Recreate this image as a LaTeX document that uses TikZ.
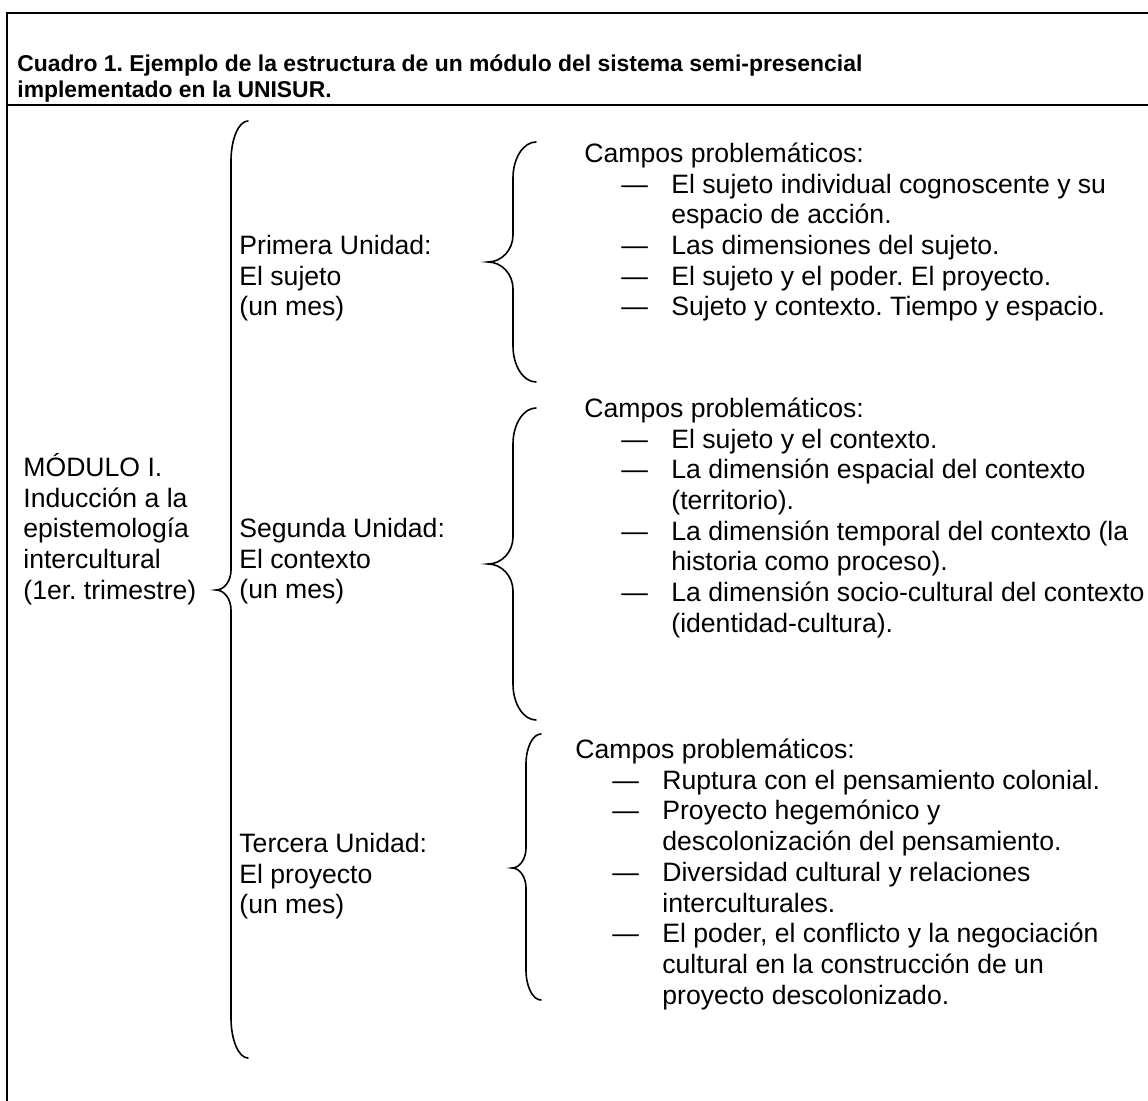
\documentclass[tikz,border=0pt]{standalone}
\usepackage{fontspec}
\setmainfont{Liberation Sans}
\usepackage{tikz}
\usetikzlibrary{positioning}
\frenchspacing
\tikzstyle{frameline} = [line width=1pt, line cap=rect]
\tikzstyle{bracket}   = [line width=0.8pt, line cap=round]
\tikzstyle{title}     = [inner sep=0pt, anchor=base west, align=left,
                         font=\fontsize{11.45}{13}\selectfont\bfseries]
\tikzstyle{body}      = [inner sep=0pt, anchor=base west, align=left,
                         font=\fontsize{13.3}{15.35}\selectfont]
% item dash and continuation indent
\newcommand{\itm}{\hspace*{18.5pt}\makebox[25pt][l]{—}}
\newcommand{\cnt}{\hspace*{43.5pt}}
% left curly brace: end x, stem x, tip x, top y, tip y, bottom y, end curve, tip curve
\newcommand{\curly}[8]{%
  \draw[bracket] (#1,#4) .. controls ({#2+0.45*(#1-#2)},#4) and (#2,{#4+0.45*#7}) .. (#2,{#4+#7})
    -- (#2,{#5-#8}) .. controls (#2,{#5-0.45*#8}) and ({#3+0.55*(#2-#3)},#5) .. (#3,#5)
    .. controls ({#3+0.55*(#2-#3)},#5) and (#2,{#5+0.45*#8}) .. (#2,{#5+#8})
    -- (#2,{#6-#7}) .. controls (#2,{#6-0.45*#7}) and ({#2+0.45*(#1-#2)},#6) .. (#1,#6);}

\begin{document}
\begin{tikzpicture}[x=0.5pt, y=-0.5pt]
    \useasboundingbox (0,0) rectangle (1148,1101);

    % Frame
    \draw[frameline] (1148,13) -- (7,13) -- (7,1101);
    \draw[frameline] (7,105) -- (1148,105);

    % Title (nodes sit on the baseline of their last line)
    \node (title) [title] at (17,97.5) {Cuadro 1. Ejemplo de la estructura de un módulo del sistema semi-presencial\\
        implementado en la UNISUR.};

    % Module (left column)
    \node (modulo) [body] at (23,599.3) {MÓDULO I.\\ Inducción a la\\ epistemología\\ intercultural\\ (1er. trimestre)};
    \curly{248}{231}{216}{121}{590}{1058}{40}{20}

    % Units (middle column)
    \node (unidad1) [body] at (239,315.9) {Primera Unidad:\\ El sujeto\\ (un mes)};
    \node (unidad2) [body] at (239,598.9) {Segunda Unidad:\\ El contexto\\ (un mes)};
    \node (unidad3) [body] at (239,913.9) {Tercera Unidad:\\ El proyecto\\ (un mes)};
    \curly{536}{513}{488}{142}{262}{382}{36}{27}
    \curly{536}{513}{488}{408}{564}{720}{36}{27}
    \curly{541}{526}{512}{734}{868}{1000}{30}{20}

    % Fields (right column)
    \node (campos1) [body] at (584,316) {Campos problemáticos:\\
        \itm El sujeto individual cognoscente y su\\
        \cnt espacio de acción.\\
        \itm Las dimensiones del sujeto.\\
        \itm El sujeto y el poder. El proyecto.\\
        \itm Sujeto y contexto. Tiempo y espacio.};
    \node (campos2) [body] at (584,632.4) {Campos problemáticos:\\
        \itm El sujeto y el contexto.\\
        \itm La dimensión espacial del contexto\\
        \cnt (territorio).\\
        \itm La dimensión temporal del contexto (la\\
        \cnt historia como proceso).\\
        \itm La dimensión socio-cultural del contexto\\
        \cnt (identidad-cultura).};
    \node (campos3) [body] at (575,1004.1) {Campos problemáticos:\\
        \itm Ruptura con el pensamiento colonial.\\
        \itm Proyecto hegemónico y\\
        \cnt descolonización del pensamiento.\\
        \itm Diversidad cultural y relaciones\\
        \cnt interculturales.\\
        \itm El poder, el conflicto y la negociación\\
        \cnt cultural en la construcción de un\\
        \cnt proyecto descolonizado.};
\end{tikzpicture}
\end{document}
